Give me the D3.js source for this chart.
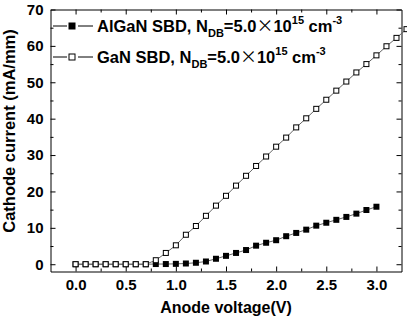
<!DOCTYPE html>
<html><head><meta charset="utf-8">
<script src="https://cdn.jsdelivr.net/npm/d3@7"></script>
<style>
html,body{margin:0;padding:0;background:#fff;}
svg{display:block;}
</style></head>
<body>
<svg id="chart" width="407" height="322"></svg>
<script>
// ---- data ----
const gaNVoltage = [0.0,0.1,0.2,0.3,0.4,0.5,0.6,0.7,0.8,0.9,1.0,1.1,1.2,1.3,1.4,1.5,1.6,1.7,1.8,1.9,2.0,2.1,2.2,2.3,2.4,2.5,2.6,2.7,2.8,2.9,3.0,3.1,3.2,3.3];
const gaNCurrent = [0,0,0,0,0,0,0,0,1.1,3.1,5.2,8.1,10.5,13.3,16.1,18.8,21.6,24.3,27.0,29.6,32.3,34.8,37.6,40.1,42.7,45.2,47.7,50.2,52.7,55.0,57.4,59.9,62.2,64.6];
const alGaNVoltage = [0.0,0.1,0.2,0.3,0.4,0.5,0.6,0.7,0.8,0.9,1.0,1.1,1.2,1.3,1.4,1.5,1.6,1.7,1.8,1.9,2.0,2.1,2.2,2.3,2.4,2.5,2.6,2.7,2.8,2.9,3.0];
const alGaNCurrent = [0,0,0,0,0,0,0,0,0.05,0.05,0.1,0.2,0.4,0.75,1.5,2.3,3.1,3.9,5.1,5.9,6.6,7.7,8.6,9.5,10.6,11.4,12.2,13.0,13.9,14.9,15.8];
const xTickValues = [0.0,0.5,1.0,1.5,2.0,2.5,3.0];
const xTickLabels = ["0.0","0.5","1.0","1.5","2.0","2.5","3.0"];
const yTickValues = [0,10,20,30,40,50,60,70];
const yTickLabels = ["0","10","20","30","40","50","60","70"];
const xMinorTicks = [0.25,0.75,1.25,1.75,2.25,2.75];
const yMinorTicks = [5,15,25,35,45,55,65];
const seriesNames = ["AlGaN SBD, N","GaN SBD, N"];

(function(){
const svg = d3.select("#chart");
const FONT = "'Liberation Sans', Arial, sans-serif";
const pL = 50.5, pR = 401.5, pT = 9.5, pB = 271.5;
const x = d3.scaleLinear().domain([-0.25, 3.25]).range([pL, pR]);
const y = d3.scaleLinear().domain([-2, 70]).range([pB, pT]);

function styleAxis(g){
  g.select(".domain").attr("stroke","#000").attr("stroke-width",1);
  g.selectAll(".tick line").attr("stroke","#000");
  g.selectAll("text").attr("font-family",FONT).attr("font-weight","bold").attr("font-size",15).attr("fill","#000");
}
function minor(g){ g.select(".domain").remove(); g.selectAll("line").attr("stroke","#000"); }
// bottom
const xb = svg.append("g").attr("transform",`translate(0,${pB})`)
  .call(d3.axisBottom(x).tickValues(xTickValues).tickFormat((d,i)=>xTickLabels[i]).tickSizeInner(-5).tickSizeOuter(0).tickPadding(7.5));
styleAxis(xb);
svg.append("g").attr("transform",`translate(0,${pB})`)
  .call(d3.axisBottom(x).tickValues(xMinorTicks).tickFormat("").tickSizeInner(-3).tickSizeOuter(0)).call(minor);
// top
const xt = svg.append("g").attr("transform",`translate(0,${pT})`)
  .call(d3.axisTop(x).tickValues(xTickValues).tickFormat("").tickSizeInner(-5).tickSizeOuter(0));
styleAxis(xt);
svg.append("g").attr("transform",`translate(0,${pT})`)
  .call(d3.axisTop(x).tickValues(xMinorTicks).tickFormat("").tickSizeInner(-3).tickSizeOuter(0)).call(minor);
// left
const yl = svg.append("g").attr("transform",`translate(${pL},0)`)
  .call(d3.axisLeft(y).tickValues(yTickValues).tickFormat((d,i)=>yTickLabels[i]).tickSizeInner(-5).tickSizeOuter(0).tickPadding(7));
styleAxis(yl);
svg.append("g").attr("transform",`translate(${pL},0)`)
  .call(d3.axisLeft(y).tickValues(yMinorTicks).tickFormat("").tickSizeInner(-3).tickSizeOuter(0)).call(minor);
// right
const yr = svg.append("g").attr("transform",`translate(${pR},0)`)
  .call(d3.axisRight(y).tickValues(yTickValues).tickFormat("").tickSizeInner(-5).tickSizeOuter(0));
styleAxis(yr);
svg.append("g").attr("transform",`translate(${pR},0)`)
  .call(d3.axisRight(y).tickValues(yMinorTicks).tickFormat("").tickSizeInner(-3).tickSizeOuter(0)).call(minor);

// axis titles
svg.append("text").attr("x",226).attr("y",313).attr("text-anchor","middle")
  .attr("font-family",FONT).attr("font-weight","bold").attr("font-size",16).text("Anode voltage(V)");
svg.append("text").attr("transform","translate(15,131) rotate(-90)").attr("text-anchor","middle")
  .attr("font-family",FONT).attr("font-weight","bold").attr("font-size",16.5).text("Cathode current (mA/mm)");

// series
const alData = alGaNVoltage.map((v,i)=>[v, alGaNCurrent[i]]);
const gaData = gaNVoltage.map((v,i)=>[v, gaNCurrent[i]]);
const line = d3.line().x(d=>x(d[0])).y(d=>y(d[1]));
const S = 6;
svg.append("path").datum(alData).attr("d",line).attr("fill","none").attr("stroke","#666").attr("stroke-width",1);
svg.append("g").selectAll("rect").data(alData).join("rect")
  .attr("x",d=>x(d[0])-S/2).attr("y",d=>y(d[1])-S/2).attr("width",S).attr("height",S).attr("fill","#000");
svg.append("path").datum(gaData).attr("d",line).attr("fill","none").attr("stroke","#666").attr("stroke-width",1);
svg.append("g").selectAll("rect").data(gaData).join("rect")
  .attr("x",d=>x(d[0])-(S-1)/2).attr("y",d=>y(d[1])-(S-1)/2).attr("width",S-1).attr("height",S-1)
  .attr("fill","#fff").attr("stroke","#000").attr("stroke-width",1);

// legend
const legRows = [{name:seriesNames[0], yc:26, filled:true},{name:seriesNames[1], yc:57, filled:false}];
legRows.forEach(r=>{
  svg.append("line").attr("x1",53).attr("x2",67).attr("y1",r.yc).attr("y2",r.yc).attr("stroke","#000");
  svg.append("line").attr("x1",78).attr("x2",93).attr("y1",r.yc).attr("y2",r.yc).attr("stroke","#000");
  if(r.filled) svg.append("rect").attr("x",72-3.5).attr("y",r.yc-3.5).attr("width",7).attr("height",7).attr("fill","#000");
  else svg.append("rect").attr("x",72-3).attr("y",r.yc-3).attr("width",6).attr("height",6).attr("fill","#fff").attr("stroke","#000");
  const t = svg.append("text").attr("x",97).attr("y",r.yc+5.7).attr("font-family",FONT).attr("font-weight","bold").attr("font-size",16.5).attr("fill","#000");
  t.append("tspan").text(r.name);
  t.append("tspan").attr("font-size",11).attr("dy",5.6).text("DB");
  t.append("tspan").attr("dy",-5.6).text("=5.0");
  t.append("tspan").attr("font-family","'Noto Sans CJK SC'").attr("font-weight","normal").attr("font-size",17).text("×");
  t.append("tspan").text("10");
  t.append("tspan").attr("font-size",11).attr("dy",-7.7).text("15");
  t.append("tspan").attr("dy",7.7).text(" cm");
  t.append("tspan").attr("font-size",11).attr("dy",-7.7).text("-3");
});
})();
</script>
</body></html>
